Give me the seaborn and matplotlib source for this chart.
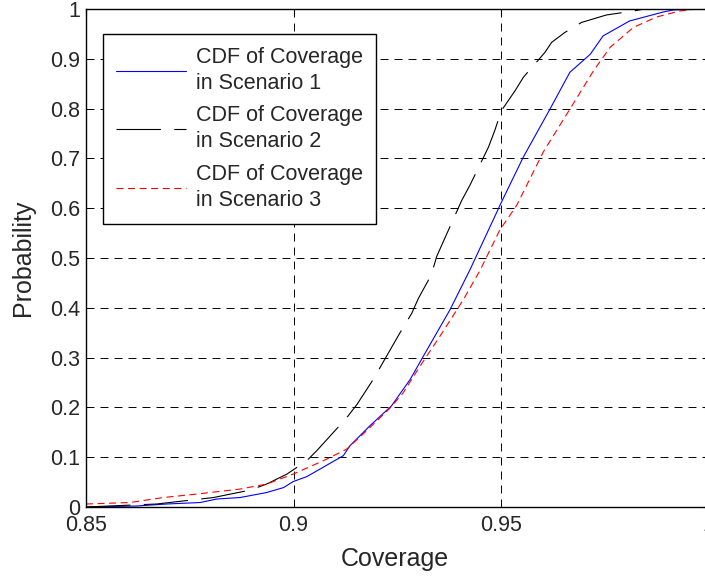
import numpy as np
import pandas as pd
import matplotlib
matplotlib.use("Agg")
import matplotlib.pyplot as plt
import seaborn as sns

# Scenario 1 (blue solid)
x1 = [0.85, 0.8621, 0.8694, 0.8775, 0.8815, 0.8871, 0.8935, 0.8976, 0.8999, 0.9032,
      0.9120, 0.9136, 0.9184, 0.9236, 0.9281, 0.9313, 0.9377, 0.9425, 0.9501, 0.9554,
      0.9618, 0.9666, 0.9715, 0.9746, 0.9810, 0.9891, 0.9915, 1.0]
p1 = [0.0, 0.002, 0.006, 0.009, 0.016, 0.019, 0.029, 0.039, 0.051, 0.061,
      0.103, 0.123, 0.163, 0.203, 0.256, 0.303, 0.396, 0.476, 0.612, 0.703,
      0.799, 0.873, 0.909, 0.946, 0.976, 0.994, 0.998, 1.0]

# Scenario 2 (black long dash)
x2 = [0.85, 0.8670, 0.8807, 0.8896, 0.8935, 0.8984, 0.9032, 0.9056, 0.9128, 0.9153,
      0.9192, 0.9256, 0.9285, 0.9301, 0.9332, 0.9345, 0.9361, 0.9405, 0.9425, 0.9470,
      0.9485, 0.9501, 0.9534, 0.9554, 0.9606, 0.9622, 0.9654, 0.9694, 0.9754, 0.9819,
      0.9846, 1.0]
p2 = [0.0, 0.006, 0.019, 0.034, 0.046, 0.066, 0.093, 0.113, 0.179, 0.206,
      0.256, 0.349, 0.389, 0.419, 0.466, 0.503, 0.533, 0.615, 0.646, 0.723,
      0.756, 0.796, 0.836, 0.863, 0.913, 0.933, 0.953, 0.973, 0.988, 0.996,
      1.0, 1.0]

# Scenario 3 (red dashed)
x3 = [0.85, 0.8606, 0.8686, 0.8767, 0.8871, 0.8935, 0.8999, 0.9072, 0.9128, 0.9176,
      0.9233, 0.9264, 0.9305, 0.9353, 0.9409, 0.9450, 0.9497, 0.9538, 0.9602, 0.9666,
      0.9723, 0.9763, 0.9819, 0.9875, 0.9931, 0.9972, 1.0]
p3 = [0.006, 0.009, 0.019, 0.026, 0.036, 0.046, 0.066, 0.093, 0.116, 0.153,
      0.199, 0.229, 0.283, 0.343, 0.416, 0.476, 0.556, 0.606, 0.713, 0.799,
      0.876, 0.923, 0.963, 0.984, 0.996, 1.0, 1.0]

labels = ["CDF of Coverage\nin Scenario 1",
          "CDF of Coverage\nin Scenario 2",
          "CDF of Coverage\nin Scenario 3"]
xticks = [0.85, 0.9, 0.95, 1.0]
xticklabels = ["0.85", "0.9", "0.95", "1"]
yticks = [0.0, 0.1, 0.2, 0.3, 0.4, 0.5, 0.6, 0.7, 0.8, 0.9, 1.0]
yticklabels = ["0", "0.1", "0.2", "0.3", "0.4", "0.5", "0.6", "0.7", "0.8", "0.9", "1"]

sns.set_style("white")
plt.rcParams['font.family'] = ['Liberation Sans', 'DejaVu Sans']

W, H = 705, 577
fig = plt.figure(figsize=(W / 100, H / 100), dpi=100)
ax = fig.add_axes([86 / W, 70 / H, 622.5 / W, 498 / H])

df1 = pd.DataFrame({"x": x1, "p": p1})
df2 = pd.DataFrame({"x": x2, "p": p2})
df3 = pd.DataFrame({"x": x3, "p": p3})

dash2 = [40, 12]
dash3 = [6.3, 4.1]

sns.lineplot(data=df1, x="x", y="p", ax=ax, color="#0000ff", linewidth=0.8,
             label=labels[0], sort=False)
sns.lineplot(data=df2, x="x", y="p", ax=ax, color="black", linewidth=0.8,
             label=labels[1], sort=False)
ax.lines[-1].set_dashes(dash2)
sns.lineplot(data=df3, x="x", y="p", ax=ax, color="#ff0000", linewidth=0.8,
             label=labels[2], sort=False)
ax.lines[-1].set_dashes(dash3)

ax.set_xlim(0.85, 1.0)
ax.set_ylim(0, 1)
ax.set_xticks(xticks)
ax.set_xticklabels(xticklabels)
ax.set_yticks(yticks)
ax.set_yticklabels(yticklabels)
ax.tick_params(direction="in", length=4, width=0.8, labelsize=15.5, top=True,
               right=True, color="black", pad=4)
ax.tick_params(axis="x", pad=6)
ax.grid(True, color="black", linestyle=(0, (8.2, 6.2)), linewidth=0.7)
ax.set_xlabel("Coverage", fontsize=18)
ax.set_ylabel("Probability", fontsize=18)
ax.xaxis.set_label_coords(0.496, -0.104)
ax.xaxis.label.set_va("center")
ax.yaxis.set_label_coords(-0.101, 0.5)
ax.yaxis.label.set_va("center")
for s in ax.spines.values():
    s.set_color("black")
    s.set_linewidth(1.0)

leg = ax.legend(loc="upper left", bbox_to_anchor=(0.027, 0.950), borderaxespad=0,
                fontsize=15.5, handlelength=3.25, frameon=True, fancybox=False,
                edgecolor="black", framealpha=1, labelspacing=0.55,
                handletextpad=0.5, borderpad=0.6)
leg.get_frame().set_linewidth(1.0)
for t in leg.get_texts():
    t.set_linespacing(1.3)
leg.get_lines()[1].set_dashes(dash2)
leg.get_lines()[2].set_dashes(dash3)

fig.savefig("out.png", dpi=100)
